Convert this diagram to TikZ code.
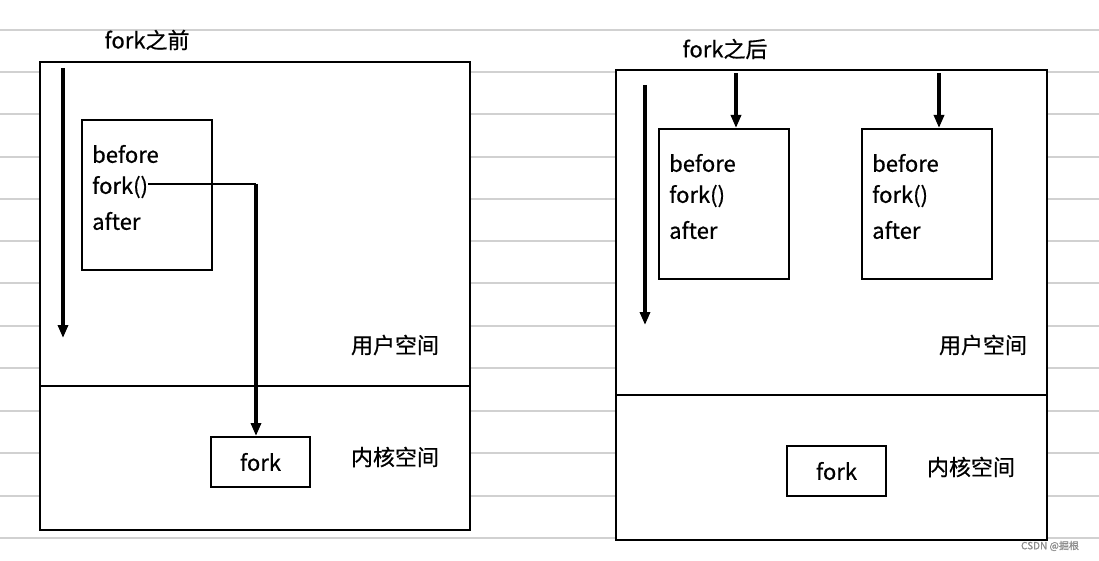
\documentclass[tikz,border=0pt]{standalone}
\usepackage{fontspec}
\setmainfont{Noto Sans CJK SC}[FakeBold=0.6]
\usetikzlibrary{arrows.meta,positioning}

\tikzset{
  frame/.style   = {draw, line width=2pt, fill=white, inner sep=0pt},
  code/.style    = {draw, line width=2pt, fill=white, minimum width=130pt,
                    minimum height=150pt, inner sep=0pt},
  kbox/.style    = {draw, line width=2pt, fill=white, minimum width=99pt,
                    minimum height=50pt, font=\fontsize{22}{24}\selectfont},
  txt/.style     = {font=\fontsize{22}{24}\selectfont, inner sep=0pt},
  flow/.style    = {line width=3.2pt, -{Triangle[length=13pt,width=10pt]}},
  ruled/.style   = {draw=black!18, line width=1.3pt}
}

\begin{document}
\begin{tikzpicture}[x=1pt,y=-1pt]

\useasboundingbox (0,0) rectangle (1099,561);

% notebook lines
\foreach \yy in {30,72,114,157,199,241,283,326,368,411,453,496,538}
  \draw[ruled] (0,\yy) -- (1099,\yy);

% fork before
\node[txt] (tl) at (147,40) {fork之前};
\node[frame, minimum width=430pt, minimum height=468pt] (ul) at (255,296) {};
\draw[line width=2pt] (ul.west |- 0,386) -- (ul.east |- 0,386);
\node[code] (pl) at (147,195) {};
\node[txt, anchor=west] (bl) at (92,154) {before};
\node[txt, anchor=west] (fl) at (92,187) {fork()};
\node[txt, anchor=west] (al) at (92,221) {after};
\node[kbox] (kl) at (260.5,462) {fork};
\node[txt] (usl) at (395,345) {用户空间};
\node[txt] (ksl) at (395,457) {内核空间};
\coordinate (sl) at (63,68);
\coordinate (el) at (63,338);
\coordinate (cl) at (256,184);
\draw[flow] (sl) -- (el);
\draw[line width=1.8pt] (fl.east |- cl) -- (cl);
\draw[flow] (cl) -- (cl |- kl.north);

% fork after
\node[txt] (tr) at (725,49) {fork之后};
\node[frame, minimum width=431pt, minimum height=470pt] (ur) at (831.5,305) {};
\draw[line width=2pt] (ur.west |- 0,395) -- (ur.east |- 0,395);
\node[code] (pa) at (724,204) {};
\node[code] (pb) at (927,204) {};
\node[txt, anchor=west] (ba) at (669,163) {before};
\node[txt, anchor=west] (fa) at (669,196) {fork()};
\node[txt, anchor=west] (aa) at (669,230) {after};
\node[txt, anchor=west] (bb) at (872,163) {before};
\node[txt, anchor=west] (fb) at (872,196) {fork()};
\node[txt, anchor=west] (ab) at (872,230) {after};
\node[kbox] (kr) at (836.5,471) {fork};
\node[txt] (usr) at (983,345) {用户空间};
\node[txt] (ksr) at (971,467) {内核空间};
\coordinate (sr) at (645,85);
\coordinate (er) at (645,325);
\coordinate (sa) at (736,73);
\coordinate (sb) at (939,73);
\draw[flow] (sr) -- (er);
\draw[flow] (sa) -- (sa |- pa.north);
\draw[flow] (sb) -- (sb |- pb.north);

\node[font=\fontsize{10}{12}\selectfont, text=black!45, inner sep=0pt] (wm) at (1050,546) {CSDN @掘根};

\end{tikzpicture}
\end{document}
